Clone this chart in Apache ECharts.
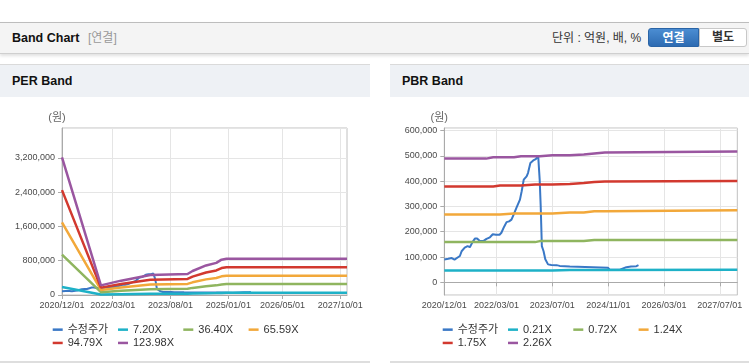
<!DOCTYPE html>
<html><head><meta charset="utf-8">
<script src="https://cdn.jsdelivr.net/npm/echarts@6/dist/echarts.min.js"></script>
<style>
html,body{margin:0;padding:0;background:#fff;}
body{width:749px;height:364px;position:relative;overflow:hidden;font-family:'Liberation Sans','Noto Sans CJK KR',sans-serif;}
.topbar{position:absolute;left:0;top:22px;width:749px;height:30px;background:#f4f4f4;border-top:1px solid #bdbdbd;border-bottom:1px solid #cfcfcf;box-shadow:0 2px 3px rgba(0,0,0,0.12);}
.title{position:absolute;left:12px;top:0;line-height:30px;font-weight:bold;font-size:12.5px;color:#111;}
.sub{position:absolute;left:88px;top:0;line-height:30px;font-size:12px;color:#999;}
.unit{position:absolute;left:552px;top:0;line-height:30px;font-size:12px;color:#333;}
.btn1{position:absolute;left:648px;top:5px;width:51px;height:19px;line-height:19px;text-align:center;color:#fff;font-weight:bold;font-size:12px;background:linear-gradient(#4b8dd2,#2d6bb2);border:1px solid #2a64a6;box-sizing:border-box;border-radius:3px 0 0 3px;}
.btn2{position:absolute;left:699px;top:5px;width:48px;height:19px;line-height:17px;text-align:center;color:#333;font-weight:bold;font-size:12px;background:#fff;border:1px solid #c8c8c8;box-sizing:border-box;border-radius:0 3px 3px 0;}
.ph{position:absolute;top:64px;height:32px;background:#eef1f5;border-top:1px solid #dadada;}
.ph span{position:absolute;left:12px;top:0;line-height:32px;font-weight:bold;font-size:12.5px;color:#111;}
.chart{position:absolute;top:97px;height:265px;}
.bl{position:absolute;top:361px;height:2px;background:#dedede;}
</style></head>
<body>
<div class="topbar"><div class="title">Band Chart</div><div class="sub">[연결]</div><div class="unit">단위 : 억원, 배, %</div><div class="btn1">연결</div><div class="btn2">별도</div></div>
<div class="ph" style="left:0;width:370px;"><span>PER Band</span></div>
<div class="ph" style="left:390px;width:359px;"><span>PBR Band</span></div>
<div id="per" class="chart" style="left:0;width:370px;"></div>
<div id="pbr" class="chart" style="left:390px;width:359px;"></div>
<div class="bl" style="left:0;width:370px;"></div>
<div class="bl" style="left:390px;width:359px;"></div>
<script>
// ---- data ----
const priceDates = ['2020-12-01','2021-01-04','2021-02-04','2021-02-28','2021-03-16','2021-04-16','2021-05-01','2021-05-28','2021-06-22','2021-07-12','2021-08-04','2021-08-25','2021-09-13','2021-10-07','2021-11-06','2021-12-04','2022-01-03','2022-01-28','2022-02-25','2022-03-28','2022-04-13','2022-05-06','2022-05-28','2022-06-19','2022-07-10','2022-07-29','2022-08-22','2022-09-22','2022-10-07','2022-10-25','2022-11-19','2022-12-01','2022-12-22','2023-01-16','2023-02-07','2023-02-28','2023-03-13','2023-03-22','2023-04-01','2023-04-16','2023-05-01','2023-05-25','2023-06-22','2023-08-07','2023-09-04','2023-12-01','2023-12-16','2024-06-19','2024-07-04','2024-10-28','2024-11-13','2025-02-10','2025-04-07','2025-05-19','2025-07-04','2025-07-22'];
const priceValues = [90000,93000,96000,90000,92000,104000,123000,137000,143000,139000,159000,173000,173000,163000,163000,172000,178000,190000,188000,188000,196000,219000,238000,241000,248000,268000,294000,327000,360000,406000,419000,432000,472000,482000,487000,500000,406000,301000,143000,123000,91000,71000,69000,68000,65000,63000,61000,60000,58000,58000,50000,50000,60000,63000,64000,68000];

const perBandDates = ['2020-12-01','2021-11-15','2022-05-15','2023-02-01','2024-01-01','2024-02-15','2024-06-15','2024-09-15','2024-11-01','2024-12-15','2027-12-01'];
const per7_20   = [186000, 13000, 19000, 27000, 29000, 33000, 40000, 44000, 48000, 50000, 50000];
const per36_40  = [945000, 66000, 98000, 137000, 146000, 166000, 205000, 225000, 246000, 256000, 256000];
const per65_59  = [1695000, 119000, 177000, 246000, 259000, 296000, 365000, 397000, 436000, 450000, 450000];
const per94_79  = [2450000, 172000, 256000, 355000, 374000, 428000, 527000, 573000, 630000, 650000, 650000];
const per123_98 = [3215000, 225000, 335000, 465000, 490000, 560000, 690000, 750000, 825000, 845000, 845000];

const pbrBandDates = ['2020-12-01','2021-12-01','2022-02-01','2022-04-01','2022-08-01','2022-10-01','2023-02-01','2023-03-15','2023-07-01','2023-12-01','2024-04-01','2024-07-01','2024-10-01','2027-12-01'];
const pbr0_21 = [47000,47000,47000,47000,47000,47000,47000,47000,48500,48500,48500,48500,50000,50000];
const pbr0_72 = [159000,159000,159000,159000,159000,159000,163000,163000,163000,163000,167000,167000,167000,167000];
const pbr1_24 = [268000,268000,268000,272000,272000,272000,272000,272000,276000,276000,281000,281000,285000,285000];
const pbr1_75 = [379000,379000,383000,383000,383000,387000,387000,387000,389000,393000,397000,399000,401000,401000];
const pbr2_26 = [489000,494000,494000,494000,498000,498000,498000,502000,502000,505000,509000,513000,517000,517000];

const perLegend = ['수정주가','7.20X','36.40X','65.59X','94.79X','123.98X'];
const pbrLegend = ['수정주가','0.21X','0.72X','1.24X','1.75X','2.26X'];
const perTickLabels = ['2020/12/01','2022/03/01','2023/08/01','2025/01/01','2026/05/01','2027/10/01'];
const pbrTickLabels = ['2020/12/01','2022/03/01','2023/07/01','2024/11/01','2026/03/01','2027/07/01'];
const xStart = '2020-12-01', xEnd = '2027-12-01';

const colors = ['#3a78c6','#1eb1c7','#8fb55f','#f2a83a','#d2392f','#9a56a0'];

// ---- helpers ----
const T = s => { const p = s.split(/[-\/]/).map(Number); return Date.UTC(p[0], p[1]-1, p[2]); };
const pairs = (dates, vals) => dates.map((d,i)=>[T(d), vals[i]]);
const pad = n => (n<10?'0':'')+n;
const fmtDate = v => { const d = new Date(Math.round(v)); return d.getUTCFullYear()+'/'+pad(d.getUTCMonth()+1)+'/'+pad(d.getUTCDate()); };
const axisFont = {color:'#4a4a4a', fontSize:9, fontFamily:'Liberation Sans'};

function build(el, cfg){
  const chart = echarts.init(document.getElementById(el), null, {renderer:'canvas'});
  const ticks = cfg.ticks.map(T);
  const series = [{name: cfg.legend[0], data: pairs(priceDates, priceValues), lw:2}]
    .concat(cfg.bands.map((b,i)=>({name: cfg.legend[i+1], data: pairs(cfg.bandDates, b), step: cfg.step, lw:2.5})))
    .map((s,i)=>{ const lw = s.lw; delete s.lw; return Object.assign({type:'line', showSymbol:false, symbol:'none', color: colors[i], lineStyle:{width:lw, color: colors[i]}, z: 2+i}, s); });
  chart.setOption({
    animation:false,
    grid:{left:cfg.gl, top:31, width:cfg.gw, height:167, show:true, borderColor:'#c0c0c0', borderWidth:1, backgroundColor:'transparent'},
    legend:{left:52.7, top:226, width:262, padding:0, itemGap:0, itemWidth:10, itemHeight:2.5, icon:'rect', data:cfg.legend,
      textStyle:{color:'#333', fontSize:11, width:50.3, lineHeight:13.3, fontFamily:'Liberation Sans, Noto Sans CJK KR'}, selectedMode:false},
    xAxis:{type:'value', min:T(xStart), max:T(xEnd),
      axisLine:{lineStyle:{color:'#aaa'}},
      axisTick:{show:true, length:4, customValues:ticks, lineStyle:{color:'#aaa'}},
      axisLabel:Object.assign({customValues:ticks, formatter:v=>fmtDate(v), margin:6, hideOverlap:false}, axisFont),
      splitLine:{show:true, customValues:ticks, lineStyle:{color:'#e5e5e5'}}},
    yAxis:Object.assign({type:'value', name:'(원)', nameLocation:'end', nameGap:5,
      nameTextStyle:{color:'#666', fontSize:11, padding:[0,10,0,0], fontFamily:'Liberation Sans, Noto Sans CJK KR'},
      axisLine:{show:true, lineStyle:{color:'#aaa'}},
      axisTick:{show:true, length:4, lineStyle:{color:'#aaa'}},
      axisLabel:Object.assign({margin:7, showMaxLabel:false, showMinLabel:cfg.showMin}, axisFont),
      splitLine:{show:true, lineStyle:{color:'#e5e5e5'}}}, cfg.y),
    series
  });
}

build('per', {legend:perLegend, ticks:perTickLabels, bandDates:perBandDates, bands:[per7_20,per36_40,per65_59,per94_79,per123_98], step:false,
  gl:62, gw:285, showMin:true, y:{min:0, max:3900000, interval:800000}});
build('pbr', {legend:pbrLegend, ticks:pbrTickLabels, bandDates:pbrBandDates, bands:[pbr0_21,pbr0_72,pbr1_24,pbr1_75,pbr2_26], step:'end',
  gl:54.3, gw:293, showMin:false, y:{min:-50000, max:610000}});
</script>
</body></html>
